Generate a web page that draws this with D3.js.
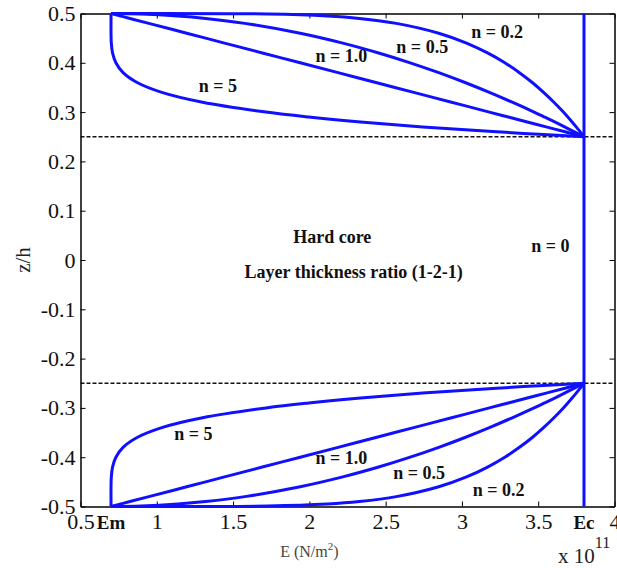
<!DOCTYPE html>
<html>
<head>
<meta charset="utf-8">
<script src="https://cdn.jsdelivr.net/npm/d3@7"></script>
<style>
  body { margin: 0; background: #fff; }
  svg text { font-family: "Liberation Serif", "Times New Roman", serif; }
</style>
</head>
<body>
<div id="chart"></div>
<script>
// z/h positions read along each face sheet
const zTop = [0.5, 0.499, 0.495, 0.49, 0.48, 0.46, 0.44, 0.42, 0.40, 0.38, 0.36, 0.34, 0.32, 0.30, 0.29, 0.28, 0.27, 0.26, 0.255, 0.25];
const zBottom = [-0.5, -0.499, -0.495, -0.49, -0.48, -0.46, -0.44, -0.42, -0.40, -0.38, -0.36, -0.34, -0.32, -0.30, -0.29, -0.28, -0.27, -0.26, -0.255, -0.25];

// E (x 10^11 N/m2), same profile in both face sheets
const eN02 = [0.700, 1.728, 2.118, 2.328, 2.570, 2.848, 3.030, 3.168, 3.281, 3.377, 3.461, 3.535, 3.603, 3.665, 3.694, 3.722, 3.749, 3.775, 3.788, 3.800];
const eN05 = [0.700, 0.896, 1.138, 1.320, 1.577, 1.940, 2.219, 2.454, 2.661, 2.848, 3.020, 3.180, 3.330, 3.473, 3.541, 3.608, 3.673, 3.737, 3.769, 3.800];
const eN1 = [0.700, 0.712, 0.762, 0.824, 0.948, 1.196, 1.444, 1.692, 1.940, 2.188, 2.436, 2.684, 2.932, 3.180, 3.304, 3.428, 3.552, 3.676, 3.738, 3.800];
const eN5 = [0.700, 0.700, 0.700, 0.700, 0.700, 0.700, 0.702, 0.710, 0.732, 0.779, 0.871, 1.033, 1.300, 1.716, 1.996, 2.336, 2.743, 3.228, 3.502, 3.800];

// n = 0 : pure ceramic through the thickness
const eN0 = [3.80, 3.80];
const zN0 = [-0.5, 0.5];

const Em = 0.7;
const Ec = 3.8;
const interfaces = [0.25, -0.25];

const xTicks = [0.5, 1, 1.5, 2, 2.5, 3, 3.5, 4];
const yTicks = [-0.5, -0.4, -0.3, -0.2, -0.1, 0, 0.1, 0.2, 0.3, 0.4, 0.5];

// annotation texts and their anchor (E, z/h)
const curveLabels = [
  { text: "n = 0.2", e: 3.23, z: 0.450 },
  { text: "n = 0.5", e: 2.74, z: 0.420 },
  { text: "n = 1.0", e: 2.21, z: 0.402 },
  { text: "n = 5", e: 1.40, z: 0.341 },
  { text: "n = 5", e: 1.24, z: -0.366 },
  { text: "n = 1.0", e: 2.21, z: -0.414 },
  { text: "n = 0.5", e: 2.72, z: -0.444 },
  { text: "n = 0.2", e: 3.24, z: -0.478 },
  { text: "n = 0", e: 3.58, z: 0.017 },
  { text: "Hard core", e: 2.15, z: 0.035 },
  { text: "Layer thickness ratio (1-2-1)", e: 2.29, z: -0.037 }
];

const width = 617, height = 568;
const margin = { left: 80.5, right: 2.5, top: 13.5, bottom: 61.5 };
const serif = "'Liberation Serif', 'Times New Roman', serif";

const svg = d3.select("#chart").append("svg")
  .attr("width", width)
  .attr("height", height);

const x = d3.scaleLinear().domain([0.5, 4]).range([margin.left, width - margin.right]);
const y = d3.scaleLinear().domain([-0.5, 0.5]).range([height - margin.bottom, margin.top]);

// 界面虚线
svg.append("g")
  .selectAll("line")
  .data(interfaces)
  .enter()
  .append("line")
  .attr("x1", x(0.5))
  .attr("x2", x(4))
  .attr("y1", d => y(d))
  .attr("y2", d => y(d))
  .attr("stroke", "#111")
  .attr("stroke-width", 1.3)
  .attr("stroke-dasharray", "4,2");

// 坐标轴 (ticks pointing inward, box on all sides)
const styleAxis = g => {
  g.attr("font-family", serif).attr("font-size", 22);
  g.select(".domain").attr("stroke", "#000").attr("stroke-width", 1.5);
  g.selectAll(".tick line").attr("stroke", "#000").attr("stroke-width", 1);
  g.selectAll(".tick text").attr("fill", "#111");
};

const fmt = d => String(+(+d).toFixed(1));

svg.append("g")
  .attr("transform", `translate(0,${y(-0.5)})`)
  .call(d3.axisBottom(x).tickValues(xTicks).tickSizeInner(-5).tickSizeOuter(0).tickPadding(7)
    .tickFormat(fmt))
  .call(styleAxis);

svg.append("g")
  .attr("transform", `translate(${x(0.5)},0)`)
  .call(d3.axisLeft(y).tickValues(yTicks).tickSizeInner(-5).tickSizeOuter(0).tickPadding(5)
    .tickFormat(fmt))
  .call(styleAxis);

svg.append("g")
  .attr("transform", `translate(0,${y(0.5)})`)
  .call(d3.axisTop(x).tickValues(xTicks).tickSizeInner(-5).tickSizeOuter(0).tickFormat(""))
  .call(styleAxis);

svg.append("g")
  .attr("transform", `translate(${x(4)},0)`)
  .call(d3.axisRight(y).tickValues(yTicks).tickSizeInner(-5).tickSizeOuter(0).tickFormat(""))
  .call(styleAxis);

// Em / Ec tick labels
svg.append("g")
  .selectAll("text")
  .data([{ t: "Em", v: Em }, { t: "Ec", v: Ec }])
  .enter()
  .append("text")
  .attr("x", d => x(d.v))
  .attr("y", y(-0.5) + 22)
  .attr("text-anchor", "middle")
  .style("font-size", "19px")
  .style("font-weight", "bold")
  .attr("fill", "#111")
  .text(d => d.t);

// 曲线
const profiles = [
  { e: eN02, z: zTop }, { e: eN05, z: zTop }, { e: eN1, z: zTop }, { e: eN5, z: zTop },
  { e: eN02, z: zBottom }, { e: eN05, z: zBottom }, { e: eN1, z: zBottom }, { e: eN5, z: zBottom },
  { e: eN0, z: zN0 }
];

const line = d3.line()
  .x(p => x(p.e))
  .y(p => y(p.z))
  .curve(d3.curveCatmullRom.alpha(0.5));

svg.append("g")
  .selectAll("path")
  .data(profiles)
  .enter()
  .append("path")
  .attr("fill", "none")
  .attr("stroke", "#1010ff")
  .attr("stroke-width", 3)
  .attr("stroke-linejoin", "round")
  .attr("d", d => line(d.e.map((v, i) => ({ e: v, z: d.z[i] }))));

// 标注
svg.append("g")
  .selectAll("text")
  .data(curveLabels)
  .enter()
  .append("text")
  .attr("x", d => x(d.e))
  .attr("y", d => y(d.z))
  .attr("text-anchor", "middle")
  .style("font-size", "18px")
  .style("font-weight", "bold")
  .attr("fill", "#111")
  .text(d => d.text);

// 轴标题
svg.append("text")
  .attr("transform", `translate(30,${y(0)}) rotate(-90)`)
  .attr("text-anchor", "middle")
  .style("font-size", "21px")
  .attr("fill", "#222")
  .text("z/h");

const xTitle = svg.append("text")
  .attr("x", x(2))
  .attr("y", 557)
  .attr("text-anchor", "middle")
  .style("font-size", "16px")
  .attr("fill", "#444")
  .text("E (N/m");
xTitle.append("tspan").attr("dy", -7).style("font-size", "11px").text("2");
xTitle.append("tspan").attr("dy", 7).text(")");

const expo = svg.append("text")
  .attr("x", 558)
  .attr("y", 563)
  .style("font-size", "21px")
  .attr("fill", "#222")
  .text("x 10");
expo.append("tspan").attr("dy", -15).style("font-size", "16px").text("11");
</script>
</body>
</html>
